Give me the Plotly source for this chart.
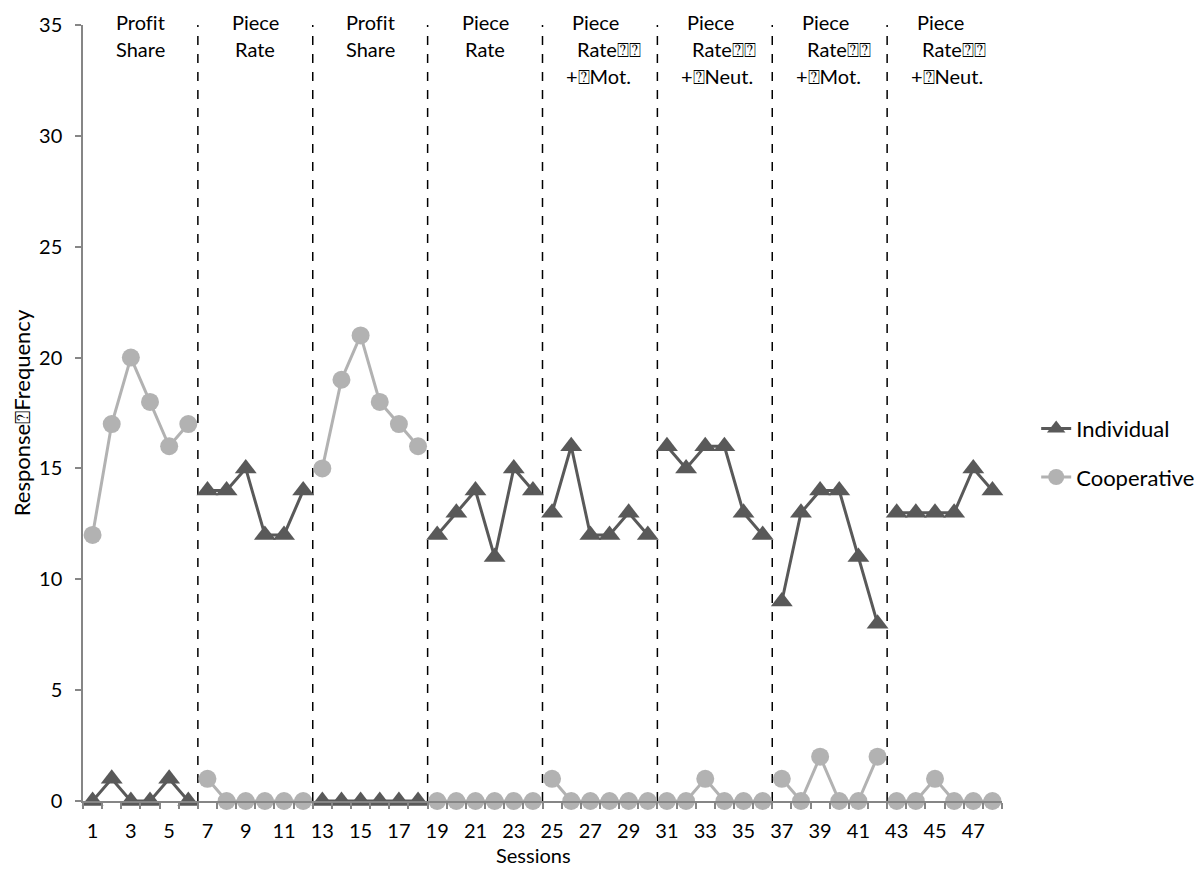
import plotly.graph_objects as go

sessions = list(range(1, 49))
individual = [0, 1, 0, 0, 1, 0,
              14, 14, 15, 12, 12, 14,
              0, 0, 0, 0, 0, 0,
              12, 13, 14, 11, 15, 14,
              13, 16, 12, 12, 13, 12,
              16, 15, 16, 16, 13, 12,
              9, 13, 14, 14, 11, 8,
              13, 13, 13, 13, 15, 14]
cooperative = [12, 17, 20, 18, 16, 17,
               1, 0, 0, 0, 0, 0,
               15, 19, 21, 18, 17, 16,
               0, 0, 0, 0, 0, 0,
               1, 0, 0, 0, 0, 0,
               0, 0, 1, 0, 0, 0,
               1, 0, 2, 0, 0, 2,
               0, 0, 1, 0, 0, 0]
phase_len = 6
phase_labels = [
    ["Prof\u200cit", "Share"],
    ["Piece", "Rate"],
    ["Prof\u200cit", "Share"],
    ["Piece", "Rate"],
    ["Piece", "Rate\u2370\u2370", "+\u2370Mot."],
    ["Piece", "Rate\u2370\u2370", "+\u2370Neut."],
    ["Piece", "Rate\u2370\u2370", "+\u2370Mot."],
    ["Piece", "Rate\u2370\u2370", "+\u2370Neut."],
]
x_ticks = list(range(1, 49, 2))
y_title = "Response\u2370Frequency"
x_title = "Sessions"

FONT = "Lato, Carlito, Calibri, sans-serif"
DARK = "#595959"
LIGHT = "#b2b2b2"


def with_gaps(xs, ys):
    gx, gy = [], []
    for i, (a, b) in enumerate(zip(xs, ys)):
        if i > 0 and i % phase_len == 0:
            gx.append(None)
            gy.append(None)
        gx.append(a)
        gy.append(b)
    return gx, gy


fig = go.Figure()
ix, iy = with_gaps(sessions, individual)
cx, cy = with_gaps(sessions, cooperative)
fig.add_trace(go.Scatter(x=ix, y=iy, name="Individual", mode="lines+markers",
                         line=dict(color=DARK, width=3),
                         marker=dict(symbol="triangle-up", size=19, color=DARK),
                         connectgaps=False, cliponaxis=False, legendgroup="a"))
fig.add_trace(go.Scatter(x=cx, y=cy, name="Cooperative", mode="lines+markers",
                         line=dict(color=LIGHT, width=3),
                         marker=dict(symbol="circle", size=18, color=LIGHT),
                         connectgaps=False, cliponaxis=False, legendgroup="b"))

n_phases = len(sessions) // phase_len
for p in range(1, n_phases):
    xb = p * phase_len + 0.5
    fig.add_shape(type="line", xref="x", yref="paper", x0=xb, x1=xb, y0=0, y1=1,
                  line=dict(color="black", width=1.5, dash="dash"), layer="below")

line_yshift = [3, -24, -51]
for p, lines in enumerate(phase_labels):
    center = p * phase_len + (phase_len + 1) / 2
    for k, txt in enumerate(lines):
        if len(lines) == 3 and k > 0:
            xshift = -25 if k == 1 else -36
            anchor = "left"
        else:
            xshift = -4 if len(lines) == 3 else 0
            anchor = "center"
        fig.add_annotation(x=center, y=1, xref="x", yref="paper", text=txt,
                           showarrow=False, xanchor=anchor, yanchor="middle",
                           xshift=xshift, yshift=line_yshift[k],
                           font=dict(family=FONT, size=20, color="#000000"))

fig.add_annotation(x=0.49, y=0, xref="paper", yref="paper", text=x_title,
                   showarrow=False, xanchor="center", yanchor="middle", yshift=-54,
                   font=dict(family=FONT, size=20, color="#000000"))

# the page body adds an 8px margin, so the figure is sized to fit the window
fig.update_layout(
    width=1196, height=869,
    margin=dict(l=75, r=202, t=17, b=76, autoexpand=False),
    paper_bgcolor="white", plot_bgcolor="white",
    font=dict(family=FONT, size=20, color="#000000"),
    showlegend=True,
    legend=dict(x=1.0372, y=0.4483, xanchor="left", yanchor="middle",
                font=dict(family=FONT, size=22), traceorder="grouped",
                tracegroupgap=17, bgcolor="rgba(0,0,0,0)"),
)
fig.update_xaxes(range=[0.5, 48.5], tickmode="array", tickvals=x_ticks,
                 ticktext=[str(v) for v in x_ticks],
                 showline=True, linecolor="#868686", linewidth=1.5,
                 ticks="outside", ticklen=6, tickcolor="rgba(0,0,0,0)",
                 ticklabelstandoff=5, automargin=False,
                 minor=dict(tick0=0.5, dtick=1, ticks="outside", ticklen=6,
                            tickcolor="#868686", tickwidth=1.5, showgrid=False),
                 showgrid=False, zeroline=False)
fig.update_yaxes(range=[0, 35], dtick=5, showline=True, linecolor="#868686",
                 linewidth=1.5, ticks="outside", ticklen=6, tickcolor="#868686",
                 tickwidth=1.5, ticklabelstandoff=9, automargin=False,
                 showgrid=False, zeroline=False,
                 title=dict(text=y_title, font=dict(family=FONT, size=22), standoff=12))

fig.write_html("out.html")
